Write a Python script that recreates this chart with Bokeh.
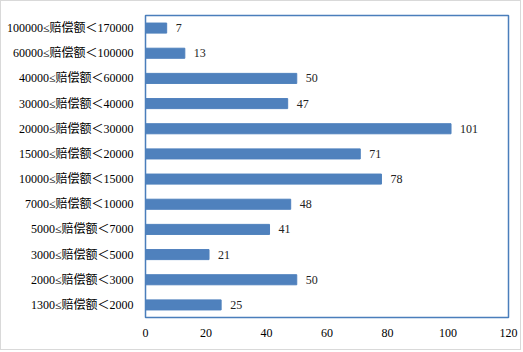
from bokeh.plotting import figure
from bokeh.models import ColumnDataSource, FixedTicker, Range1d, LabelSet
from bokeh.embed import file_html
from bokeh.resources import INLINE

categories = ["1300≤赔偿额＜2000", "2000≤赔偿额＜3000", "3000≤赔偿额＜5000",
              "5000≤赔偿额＜7000", "7000≤赔偿额＜10000", "10000≤赔偿额＜15000",
              "15000≤赔偿额＜20000", "20000≤赔偿额＜30000", "30000≤赔偿额＜40000",
              "40000≤赔偿额＜60000", "60000≤赔偿额＜100000", "100000≤赔偿额＜170000"]
counts = [25, 50, 21, 41, 48, 78, 71, 101, 47, 50, 13, 7]
x_ticks = [0, 20, 40, 60, 80, 100, 120]

FONT = "'Liberation Serif', 'Times New Roman', 'Noto Sans CJK SC', serif"

src = ColumnDataSource(dict(cat=categories, val=counts, lab=[str(v) for v in counts]))

p = figure(width=521, height=350, y_range=categories, x_range=Range1d(0, 120),
           output_backend="svg", toolbar_location=None,
           min_border_left=144, min_border_right=14, min_border_top=14, min_border_bottom=34,
           styles={"border": "1px solid #d9d9d9"})

p.hbar(y="cat", right="val", left=0, height=0.4, source=src, color="#4f81bd")
labels = LabelSet(x="val", y="cat", text="lab", source=src, x_offset=9, y_offset=0,
                  text_baseline="middle", text_font=FONT, text_font_size="12px",
                  text_color="#222222")
p.add_layout(labels)

p.xgrid.grid_line_color = None
p.ygrid.grid_line_color = None
p.outline_line_color = "#4a7ebb"
p.outline_line_width = 1.5

p.xaxis.ticker = FixedTicker(ticks=x_ticks)
for ax in (p.xaxis, p.yaxis):
    ax.axis_line_color = None
    ax.major_tick_line_color = None
    ax.minor_tick_line_color = None
    ax.major_label_text_font = FONT
    ax.major_label_text_font_size = "12px"
    ax.major_label_text_color = "#000000"
p.xaxis.major_label_standoff = 5
p.yaxis.major_label_standoff = 6
p.y_range.range_padding = 0.0

with open("out.html", "w") as f:
    f.write(file_html(p, INLINE))
